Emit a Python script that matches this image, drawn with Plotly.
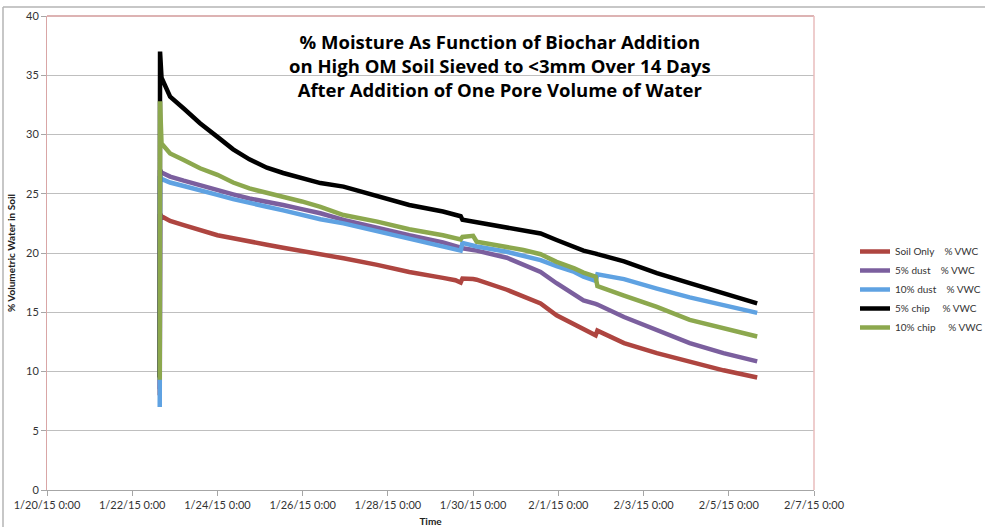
import plotly.graph_objects as go

# ---------------- data ----------------
TIMES = [
    "2015-01-22 15:30", "2015-01-22 15:40", "2015-01-22 16:30", "2015-01-22 21:20",
    "2015-01-23 05:00", "2015-01-23 14:10", "2015-01-24 00:00", "2015-01-24 08:50",
    "2015-01-24 18:00", "2015-01-25 03:50", "2015-01-25 13:00", "2015-01-25 23:30",
    "2015-01-26 10:00", "2015-01-26 23:00", "2015-01-27 18:00", "2015-01-28 12:00",
    "2015-01-29 07:00", "2015-01-29 14:00", "2015-01-29 17:00", "2015-01-29 18:00",
    "2015-01-30 00:00", "2015-01-30 02:00", "2015-01-30 19:00", "2015-01-31 04:20",
    "2015-01-31 14:00", "2015-01-31 23:00", "2015-02-01 09:00", "2015-02-01 14:10",
    "2015-02-01 21:00", "2015-02-01 22:00", "2015-02-02 13:00", "2015-02-03 07:30",
    "2015-02-04 02:00", "2015-02-04 21:00", "2015-02-05 16:00",
]

SOIL_ONLY = [8.0, 23.3, 23.1, 22.7, 22.35, 21.95, 21.5, 21.25, 20.95, 20.7,
             20.45, 20.2, 19.95, 19.55, 19.0, 18.4, 17.9, 17.7, 17.5, 17.85,
             17.8, 17.75, 16.9, 16.3, 15.75, 14.75, 14.0, 13.65, 13.05, 13.45,
             12.4, 11.55, 10.85, 10.1, 9.5]
DUST_5 = [8.5, 27.0, 26.8, 26.45, 26.1, 25.7, 25.3, 24.95, 24.6, 24.35,
          24.05, 23.7, 23.35, 22.8, 22.1, 21.5, 20.9, 20.6, 20.45, 20.4,
          20.25, 20.2, 19.6, 19.05, 18.4, 17.45, 16.45, 16.0, 15.7, 15.65,
          14.6, 13.5, 12.4, 11.55, 10.85]
DUST_10 = [7.0, 26.5, 26.25, 25.95, 25.65, 25.25, 24.9, 24.55, 24.2, 23.9,
           23.6, 23.2, 22.85, 22.5, 21.85, 21.25, 20.6, 20.35, 20.2, 20.85,
           20.6, 20.55, 20.1, 19.75, 19.4, 18.9, 18.4, 18.0, 17.65, 18.2,
           17.8, 17.0, 16.25, 15.6, 14.95]
CHIP_5 = [9.5, 37.0, 34.8, 33.2, 32.2, 30.95, 29.8, 28.75, 27.9, 27.2,
          26.75, 26.3, 25.9, 25.6, 24.8, 24.05, 23.5, 23.25, 23.1, 22.8,
          22.65, 22.6, 22.2, 21.95, 21.65, 21.1, 20.55, 20.2, 19.95, 19.9,
          19.3, 18.3, 17.45, 16.6, 15.75]
CHIP_10 = [9.3, 32.8, 29.25, 28.4, 27.85, 27.15, 26.6, 25.95, 25.45, 25.1,
           24.75, 24.35, 23.9, 23.2, 22.65, 22.0, 21.5, 21.3, 21.15, 21.35,
           21.45, 20.95, 20.55, 20.25, 19.9, 19.25, 18.7, 18.35, 18.0, 17.2,
           16.4, 15.45, 14.35, 13.65, 12.95]

NB = "\u00a0"
SERIES_NAMES = [
    "Soil Only" + NB * 4 + "% VWC",
    "5% dust" + NB * 4 + "% VWC",
    "10% dust" + NB * 4 + "% VWC",
    "5% chip" + NB * 5 + "% VWC",
    "10% chip" + NB * 5 + "% VWC",
]
SERIES_VALUES = [SOIL_ONLY, DUST_5, DUST_10, CHIP_5, CHIP_10]
SERIES_COLORS = ["#AE4540", "#7B5F9E", "#5FA2E2", "#000000", "#8CA84E"]

TITLE_LINES = [
    "% Moisture As Function of Biochar Addition",
    "on High OM Soil Sieved to <3mm Over 14 Days",
    "After Addition of One Pore Volume of Water",
]
X_TITLE = "Time"
Y_TITLE = "% Volumetric Water in Soil"

FONT = "Lato, 'Open Sans', sans-serif"

# ---------------- figure ----------------
fig = go.Figure()
for name, vals, col in zip(SERIES_NAMES, SERIES_VALUES, SERIES_COLORS):
    fig.add_trace(go.Scatter(
        x=TIMES, y=vals, name=name, mode="lines",
        line=dict(color=col, width=4.5),
    ))

L, R, T, B = 47, 171, 16, 37
W, H = 985, 527
pw, ph = W - L - R, H - T - B


def px_x(px):
    return (px - L) / pw


def px_y(py):
    return (H - B - py) / ph


fig.update_layout(
    width=W, height=H,
    margin=dict(l=L, r=R, t=T, b=B, autoexpand=False),
    paper_bgcolor="white", plot_bgcolor="white",
    font=dict(family=FONT, color="#333333", size=11),
    showlegend=True,
    legend=dict(
        x=px_x(855), y=px_y(237), xanchor="left", yanchor="top",
        font=dict(size=10, color="#333333", family=FONT),
        itemwidth=30, tracegroupgap=0, bgcolor="rgba(0,0,0,0)",
    ),
    xaxis=dict(
        type="date",
        range=["2015-01-20", "2015-02-07"],
        tick0="2015-01-20", dtick=2 * 86400000,
        tickformat="%-m/%-d/%y %-H:%M",
        showgrid=False, zeroline=False,
        showline=True, linecolor="#A6A6A6", linewidth=1,
        ticks="outside", ticklen=5, tickcolor="#A6A6A6",
        tickfont=dict(size=11, color="#333333"),
        title=dict(text="<b>" + X_TITLE + "</b>", font=dict(size=10, color="#222222"), standoff=8),
    ),
    yaxis=dict(
        range=[0, 40], dtick=5, tick0=0,
        showgrid=True, gridcolor="#BFBFBF", gridwidth=1,
        zeroline=False,
        showline=True, linecolor="#D9A6A6", linewidth=1,
        ticks="outside", ticklen=5, tickcolor="#A6A6A6",
        tickfont=dict(size=11, color="#333333"),
        title=dict(text="<b>" + Y_TITLE + "</b>", font=dict(size=10, color="#222222"), standoff=8),
    ),
)

# plot-area border (pinkish top / right)
fig.add_shape(type="line", xref="paper", yref="paper", x0=0, x1=1, y0=1, y1=1,
              line=dict(color="#D29A9A", width=1.5))
fig.add_shape(type="line", xref="paper", yref="paper", x0=1, x1=1, y0=0, y1=1,
              line=dict(color="#E8BDBD", width=1.5))

# outer chart border (top and left)
fig.add_shape(type="line", xref="paper", yref="paper",
              x0=px_x(3), x1=px_x(W), y0=px_y(7), y1=px_y(7),
              line=dict(color="#B4B4B4", width=1.5))
fig.add_shape(type="line", xref="paper", yref="paper",
              x0=px_x(3), x1=px_x(3), y0=px_y(7), y1=px_y(H + 2),
              line=dict(color="#B4B4B4", width=1.5))

# chart title
fig.add_annotation(
    xref="paper", yref="paper", x=px_x(500), y=px_y(27),
    xanchor="center", yanchor="top", showarrow=False, align="center",
    text="<b>" + "<br>".join(TITLE_LINES) + "</b>",
    font=dict(size=18.5, color="#000000", family="'Open Sans', sans-serif"),
)

fig.write_html(
    "out.html",
    config={"displayModeBar": False},
    post_script="document.body.style.margin='0';document.body.style.overflow='hidden';",
)
